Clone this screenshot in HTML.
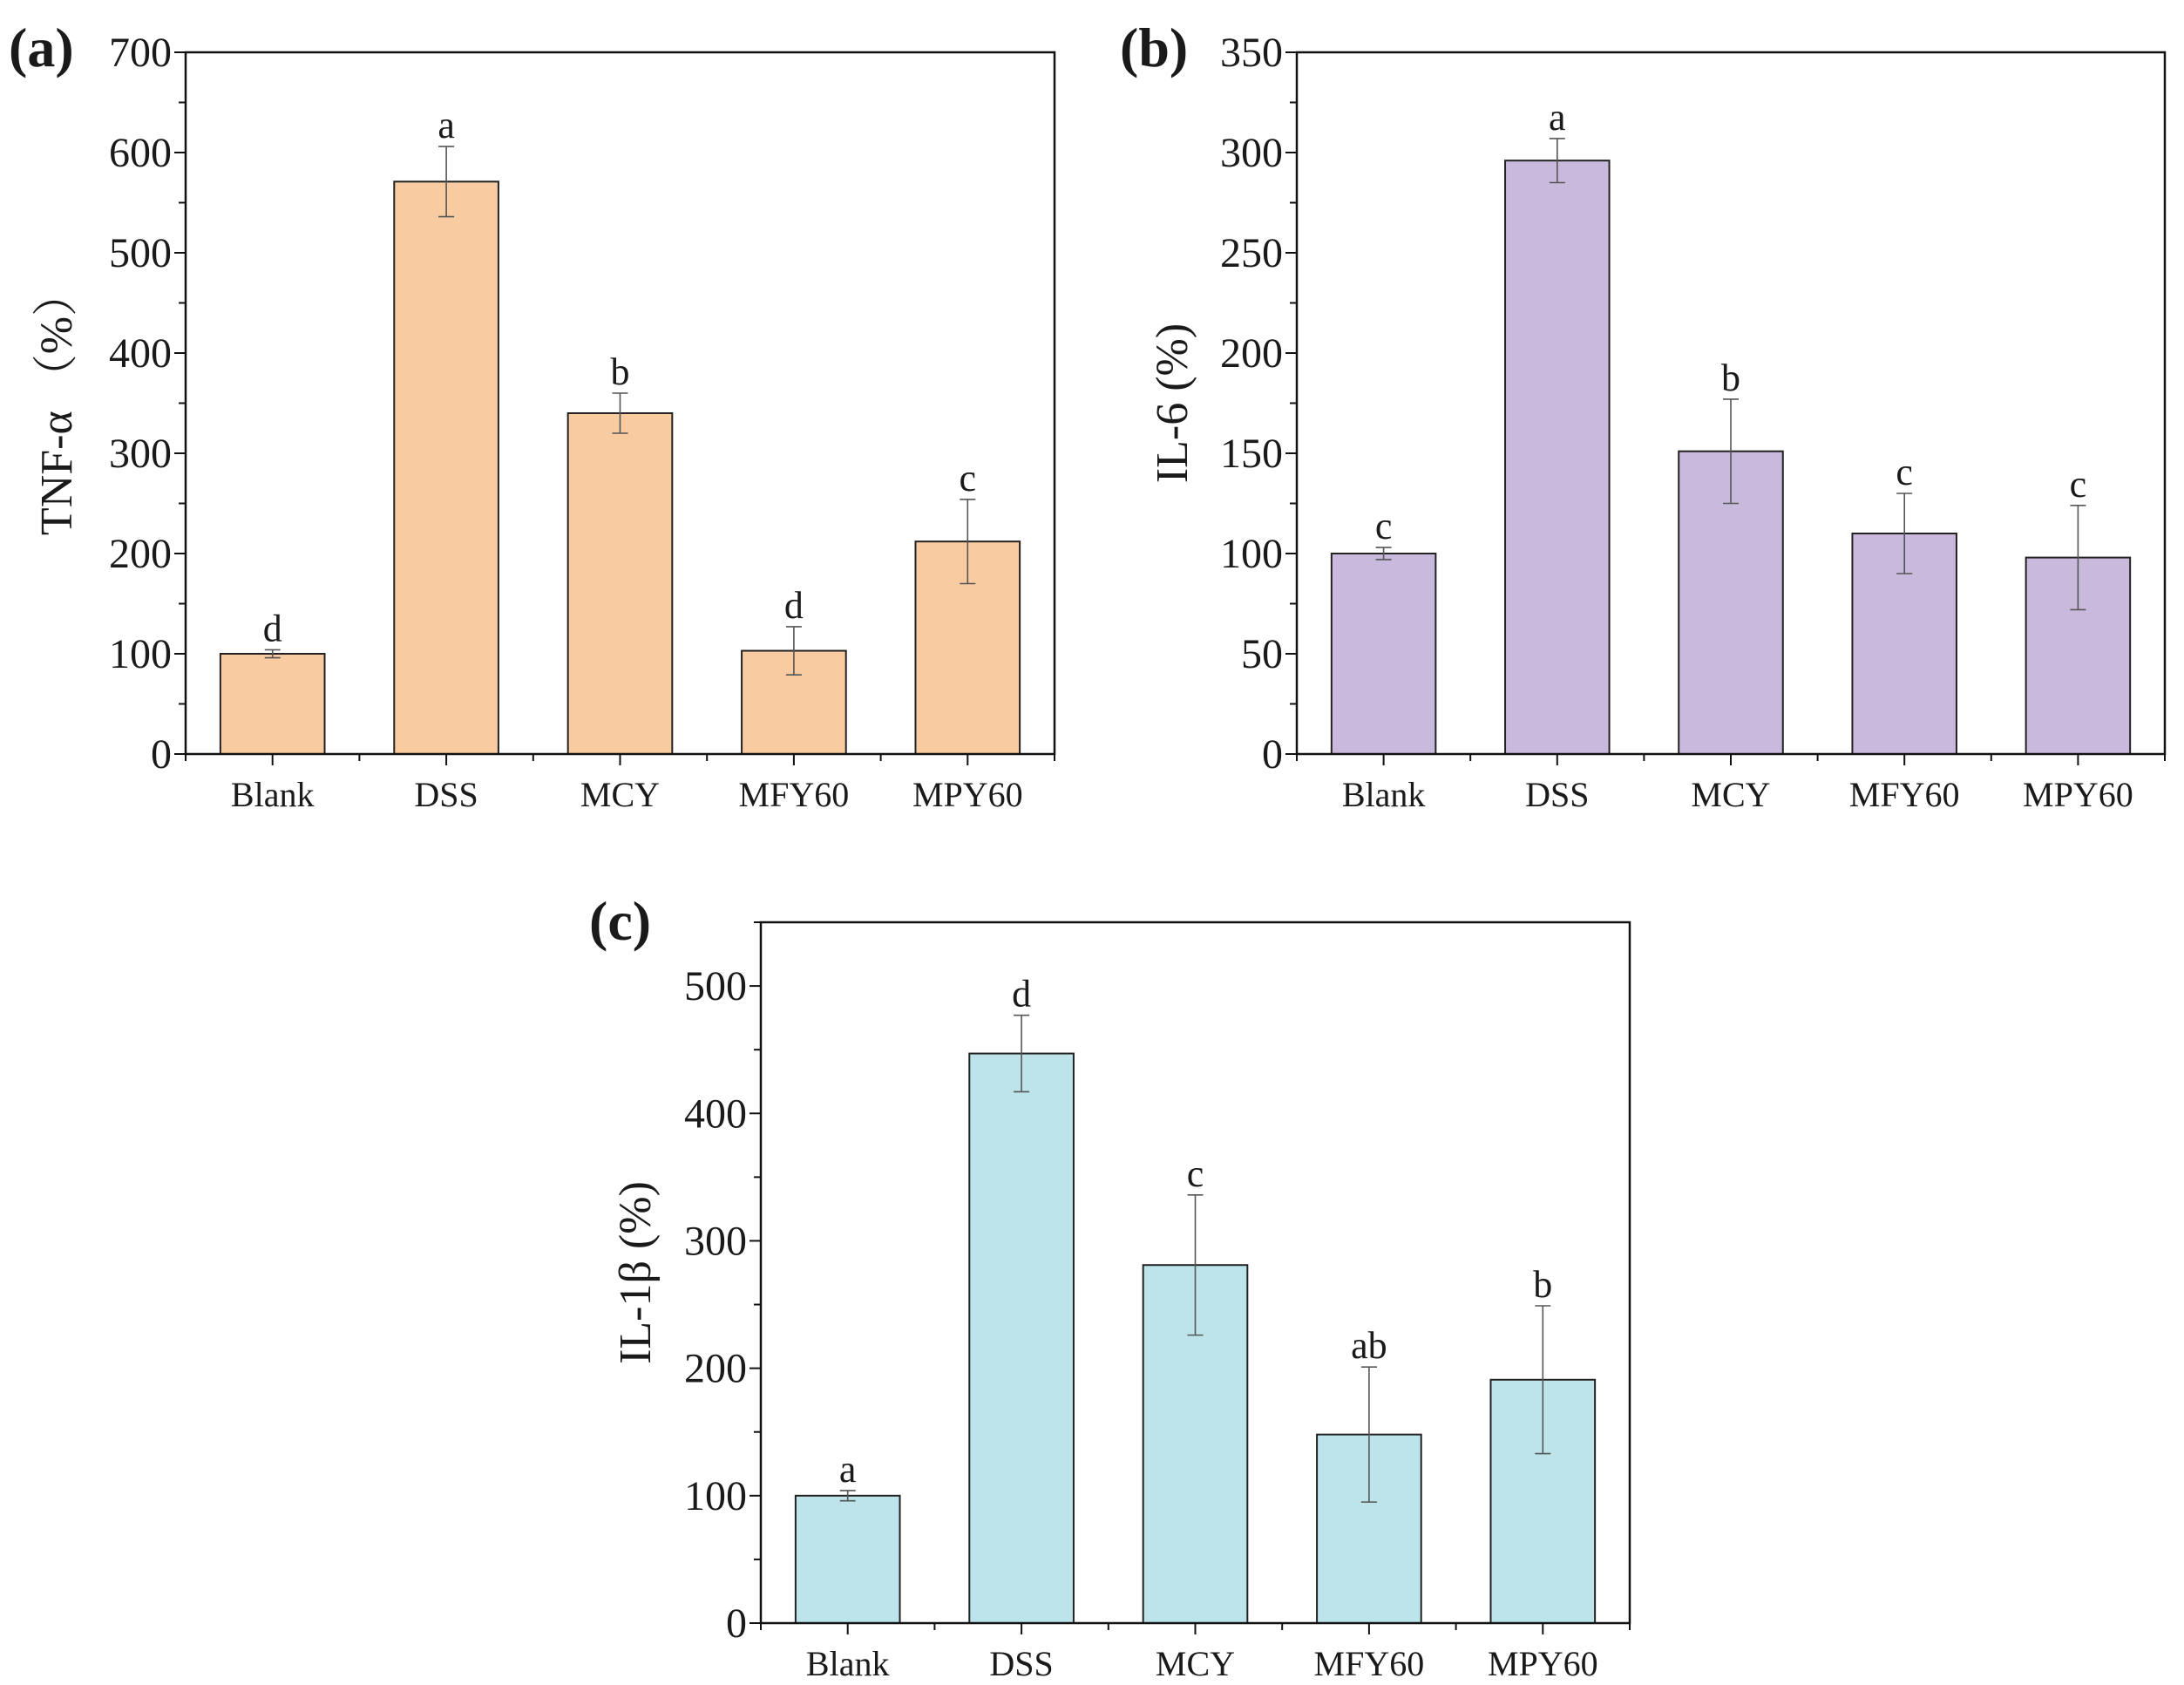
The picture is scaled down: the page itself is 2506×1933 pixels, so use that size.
<!DOCTYPE html>
<html><head><meta charset="utf-8"><style>
html,body{margin:0;padding:0;background:#fff}
svg{display:block}
text{font-family:"Liberation Serif","Noto Serif CJK SC",serif;fill:#1a1a1a}
</style></head><body>
<svg id="fig" width="2506" height="1933" viewBox="0 0 2506 1933" xmlns="http://www.w3.org/2000/svg"></svg>
<script>
const categories = ["Blank","DSS","MCY","MFY60","MPY60"];
const tnfValues = [100, 571, 340, 103, 212];
const tnfErrors = [4, 35, 20, 24, 42];
const tnfLetters = ["d","a","b","d","c"];
const il6Values = [100, 296, 151, 110, 98];
const il6Errors = [3, 11, 26, 20, 26];
const il6Letters = ["c","a","b","c","c"];
const il1bValues = [100, 447, 281, 148, 191];
const il1bErrors = [4, 30, 55, 53, 58];
const il1bLetters = ["a","d","c","ab","b"];
const tnfTicks = [0,100,200,300,400,500,600,700];
const il6Ticks = [0,50,100,150,200,250,300,350];
const il1bTicks = [0,100,200,300,400,500];

const svg = document.getElementById('fig');
const NS = 'http://www.w3.org/2000/svg';
function mk(tag, attrs, parent, txt){
  const e = document.createElementNS(NS, tag);
  for (const k in attrs) e.setAttribute(k, attrs[k]);
  if (txt !== undefined) e.textContent = txt;
  parent.appendChild(e);
  return e;
}

function panel(cfg){
  const g = mk('g', {}, svg);
  
  
  const L = cfg.left, R = cfg.right, T = cfg.top, B = cfg.bottom;
  const y = v => B - (v / cfg.max) * (B - T);
  const step = (R - L) / categories.length;
  const x = i => L + step * (i + 0.5);
  const bw = step * 0.6;
  cfg.values.forEach((v, i) => {
    const r = mk('rect', {x: x(i) - bw/2, y: y(v), width: bw, height: B - y(v), fill: cfg.color, stroke: '#222', 'stroke-width': 2}, g);
    
    
    const hi = y(v + cfg.errors[i]), lo = y(v - cfg.errors[i]);
    const eb = mk('g', {stroke: '#555', 'stroke-width': 1.6}, g);
    
    
    mk('line', {x1: x(i), x2: x(i), y1: hi, y2: lo}, eb);
    mk('line', {x1: x(i)-9, x2: x(i)+9, y1: hi, y2: hi}, eb);
    mk('line', {x1: x(i)-9, x2: x(i)+9, y1: lo, y2: lo}, eb);
    const t = mk('text', {x: x(i), y: hi - 10, 'text-anchor': 'middle', 'font-size': 44}, g, cfg.letters[i]);
    
    
    const cl = mk('text', {x: x(i), y: B + 60, 'text-anchor': 'middle', 'font-size': 40}, g, categories[i]);
    
    
  });
  const fr = mk('rect', {x: L, y: T, width: R - L, height: B - T, fill: 'none', stroke: '#111', 'stroke-width': 2.5}, g);
  
  
  for (let k = 0; k <= categories.length * 2; k++) {
    const xx = L + step * k / 2;
    mk('line', {x1: xx, x2: xx, y1: B, y2: B + (k % 2 ? 13 : 8), stroke: '#111', 'stroke-width': 2}, g);
  }
  const minor = cfg.ticks[1] / 2;
  for (let v = 0; v <= cfg.max + 0.001; v += minor) {
    const isMajor = cfg.ticks.some(t => Math.abs(t - v) < 0.001);
    mk('line', {x1: L - (isMajor ? 13 : 8), x2: L, y1: y(v), y2: y(v), stroke: '#111', 'stroke-width': 2}, g);
  }
  cfg.ticks.forEach(t => {
    const tl = mk('text', {x: L - 16, y: y(t) + 16, 'text-anchor': 'end', 'font-size': 48}, g, t);
    
    
  });
  const yt = mk('text', {x: cfg.titleX, y: (T + B)/2, 'text-anchor': 'middle', 'font-size': 52, transform: `rotate(-90 ${cfg.titleX} ${(T+B)/2})`}, g, cfg.title);
  
  
  const pl = mk('text', {x: cfg.labelX, y: cfg.labelY, 'font-size': 64, 'font-weight': 'bold'}, g, cfg.label);
  
  
}

panel({id:'tnf', left:213, right:1210, top:60, bottom:865, max:700, ticks:tnfTicks, values:tnfValues, errors:tnfErrors, letters:tnfLetters, color:'#f9cba0', title:'TNF-α （%）', titleX:82, label:'(a)', labelX:10, labelY:76});
panel({id:'il6', left:1488, right:2484, top:60, bottom:865, max:350, ticks:il6Ticks, values:il6Values, errors:il6Errors, letters:il6Letters, color:'#c9b9dc', title:'IL-6 (%)', titleX:1362, label:'(b)', labelX:1285, labelY:76});
panel({id:'il1b', left:873, right:1870, top:1058, bottom:1862, max:550, ticks:il1bTicks, values:il1bValues, errors:il1bErrors, letters:il1bLetters, color:'#bce4ea', title:'IL-1β (%)', titleX:746, label:'(c)', labelX:676, labelY:1078});
</script>
</body></html>
